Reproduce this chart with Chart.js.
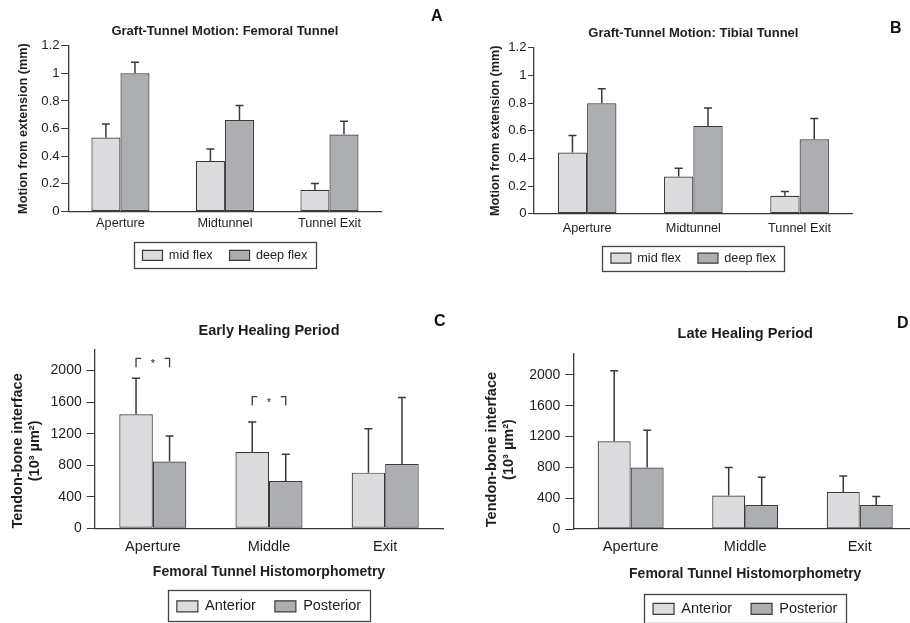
<!DOCTYPE html>
<html>
<head>
<meta charset="utf-8">
<script src="https://cdn.jsdelivr.net/npm/chart.js@4.4.1/dist/chart.umd.min.js"></script>
<style>
  html, body { margin: 0; padding: 0; background: #ffffff; width: 910px; height: 623px; overflow: hidden; }
  body { position: relative; font-family: "Liberation Sans", Arial, Helvetica, sans-serif; }
  canvas { position: absolute; display: block; }
  .letter { position: absolute; font-weight: bold; font-size: 16px; line-height: 1; color: #111; }
</style>
</head>
<body>
<canvas id="cA" width="455" height="280" style="left:0px;top:0px"></canvas>
<canvas id="cB" width="455" height="280" style="left:455px;top:0px"></canvas>
<canvas id="cC" width="455" height="330" style="left:0px;top:300px"></canvas>
<canvas id="cD" width="480" height="330" style="left:455px;top:300px"></canvas>
<div class="letter" style="left:431px;top:8px">A</div>
<div class="letter" style="left:890px;top:20px">B</div>
<div class="letter" style="left:434px;top:313px">C</div>
<div class="letter" style="left:897px;top:315px">D</div>
<script>
// ---------------- DATA ----------------
const motionCategories = ['Aperture', 'Midtunnel', 'Tunnel Exit'];
const motionSeries = ['mid flex', 'deep flex'];
const femoralMidFlex = [0.535, 0.366, 0.157];
const femoralMidFlexSD = [0.099, 0.087, 0.045];
const femoralDeepFlex = [1.0, 0.663, 0.557];
const femoralDeepFlexSD = [0.08, 0.104, 0.096];
const tibialMidFlex = [0.442, 0.269, 0.13];
const tibialMidFlexSD = [0.123, 0.06, 0.031];
const tibialDeepFlex = [0.798, 0.635, 0.538];
const tibialDeepFlexSD = [0.106, 0.13, 0.15];
const motionTicks = [0, 0.2, 0.4, 0.6, 0.8, 1, 1.2];

const healingCategories = ['Aperture', 'Middle', 'Exit'];
const healingSeries = ['Anterior', 'Posterior'];
const earlyAnterior = [1446, 968, 706];
const earlyAnteriorSD = [457, 381, 558];
const earlyPosterior = [846, 600, 816];
const earlyPosteriorSD = [325, 339, 842];
const lateAnterior = [1139, 433, 481];
const lateAnteriorSD = [913, 364, 207];
const latePosterior = [797, 312, 312];
const latePosteriorSD = [484, 359, 108];
const interfaceTicks = [0, 400, 800, 1200, 1600, 2000];
const interfaceAxisMax = 2270;
const earlySigCategories = ['Aperture', 'Middle'];
const earlySigLevels = [2156, 1670];

// ---------------- STYLE ----------------
const FONT = '"Liberation Sans", Arial, Helvetica, sans-serif';
const FILLS = ['#dcdcde', '#adaeb1'];
const EDGE = '#3a3a3a';
const TEXT = '#1e1e1e';

// ---------------- PLUGINS ----------------
const errorBarsPlugin = {
  id: 'errorBars',
  afterDatasetsDraw(chart, args, opts) {
    const ctx = chart.ctx, y = chart.scales.y;
    ctx.save();
    ctx.strokeStyle = opts.color || EDGE;
    ctx.lineWidth = opts.lineWidth || 1.5;
    const cap = opts.cap || 8;
    chart.data.datasets.forEach((ds, di) => {
      if (!ds.errors) return;
      const meta = chart.getDatasetMeta(di);
      meta.data.forEach((bar, i) => {
        const v = ds.data[i], e = ds.errors[i];
        const yb = y.getPixelForValue(v), yt = y.getPixelForValue(v + e);
        ctx.beginPath();
        ctx.moveTo(bar.x, yb);
        ctx.lineTo(bar.x, yt);
        ctx.moveTo(bar.x - cap / 2, yt);
        ctx.lineTo(bar.x + cap / 2, yt);
        ctx.stroke();
      });
    });
    ctx.restore();
  }
};

const legendFramePlugin = {
  id: 'legendFrame',
  afterDraw(chart, args, opts) {
    const lg = chart.legend;
    if (!lg || !lg.legendHitBoxes || !lg.legendHitBoxes.length) return;
    const hb = lg.legendHitBoxes;
    let x0 = Infinity, x1 = -Infinity, y0 = Infinity, y1 = -Infinity;
    hb.forEach(h => {
      x0 = Math.min(x0, h.left); x1 = Math.max(x1, h.left + h.width);
      y0 = Math.min(y0, h.top); y1 = Math.max(y1, h.top + h.height);
    });
    const ctx = chart.ctx;
    ctx.save();
    ctx.strokeStyle = opts.color || '#444';
    ctx.lineWidth = 1.3;
    ctx.strokeRect(Math.round(x0 - opts.mx) + 0.5, Math.round(y0 - opts.mt) + 0.5,
      Math.round(x1 - x0 + 2 * opts.mx), Math.round(y1 - y0 + opts.mt + opts.mb));
    ctx.restore();
  }
};

const sigBracketPlugin = {
  id: 'sigBrackets',
  afterDatasetsDraw(chart, args, opts) {
    if (!opts || !opts.categories) return;
    const ctx = chart.ctx, y = chart.scales.y;
    const m0 = chart.getDatasetMeta(0), m1 = chart.getDatasetMeta(1);
    ctx.save();
    ctx.strokeStyle = EDGE;
    ctx.lineWidth = 1.3;
    ctx.fillStyle = TEXT;
    ctx.font = '11px ' + FONT;
    ctx.textAlign = 'center';
    ctx.textBaseline = 'alphabetic';
    opts.categories.forEach((name, k) => {
      const ci = chart.data.labels.indexOf(name);
      if (ci < 0) return;
      const xa = m0.data[ci].x, xb = m1.data[ci].x;
      const yt = y.getPixelForValue(opts.levels[k]);
      const drop = 9, arm = 5;
      ctx.beginPath();
      ctx.moveTo(xa, yt + drop); ctx.lineTo(xa, yt); ctx.lineTo(xa + arm, yt);
      ctx.moveTo(xb - arm, yt); ctx.lineTo(xb, yt); ctx.lineTo(xb, yt + drop);
      ctx.stroke();
      ctx.fillText('*', (xa + xb) / 2, yt + 9);
    });
    ctx.restore();
  }
};

// ---------------- BUILDER ----------------
function buildPanel(canvasId, spec, L) {
  const datasets = spec.series.map((name, k) => ({
    label: name,
    data: spec.values[k],
    errors: spec.errors[k],
    backgroundColor: FILLS[k],
    borderColor: EDGE,
    borderWidth: 1.2,
    borderSkipped: false,
    categoryPercentage: L.catPct,
    barPercentage: 1.0
  }));
  // pad the rotated title with trailing spaces so its visible part sits lower, as in the figure
  const pad = ' '.repeat(L.yTitleShift || 0);
  const yTitleText = Array.isArray(spec.yTitle) ? spec.yTitle.map(t => t + pad) : spec.yTitle + pad;
  const yScale = {
    min: 0,
    max: spec.yMax,
    afterBuildTicks: s => { s.ticks = spec.yTicks.map(v => ({ value: v })); },
    afterFit: s => { s.width = L.yW; },
    ticks: {
      color: TEXT,
      font: { family: FONT, size: L.yTickFs },
      padding: L.tickPad,
      callback: v => String(v)
    },
    grid: { display: true, drawOnChartArea: false, drawTicks: true, tickLength: L.tickLen, color: EDGE, lineWidth: 1 },
    border: { display: true, color: EDGE, width: 1.3 },
    title: {
      display: true,
      text: yTitleText,
      color: TEXT,
      font: { family: FONT, size: L.yTitleFs, weight: 'bold', lineHeight: 1.2 },
      padding: { top: L.yTitlePad, bottom: 0 }
    }
  };
  const xScale = {
    afterFit: s => { s.height = L.hx; },
    ticks: { color: TEXT, font: { family: FONT, size: L.xTickFs }, padding: L.xTickPad, maxRotation: 0, autoSkip: false },
    grid: { display: false, drawTicks: false },
    border: { display: true, color: EDGE, width: 1.3 },
    title: spec.xTitle ? {
      display: true,
      text: spec.xTitle,
      color: TEXT,
      font: { family: FONT, size: L.xTitleFs, weight: 'bold', lineHeight: 1.2 },
      padding: { top: 0, bottom: 0 }
    } : { display: false }
  };
  return new Chart(document.getElementById(canvasId), {
    type: 'bar',
    data: { labels: spec.categories, datasets },
    options: {
      responsive: false,
      animation: false,
      events: [],
      layout: { padding: { left: 0, right: L.pR, top: L.pT, bottom: L.pB } },
      plugins: {
        title: {
          display: true,
          text: spec.title,
          fullSize: false,
          color: TEXT,
          font: { family: FONT, size: L.titleFs, weight: 'bold', lineHeight: 1.2 },
          padding: { top: 0, bottom: L.titlePadB }
        },
        legend: {
          display: true,
          position: 'bottom',
          fullSize: false,
          labels: {
            color: TEXT,
            font: { family: FONT, size: L.legendFs },
            boxWidth: L.boxW,
            boxHeight: L.boxH,
            padding: L.legendPad
          }
        },
        tooltip: { enabled: false },
        errorBars: { color: EDGE, lineWidth: 1.5, cap: 8 },
        legendFrame: { mx: L.frameX, mt: L.frameT, mb: L.frameB, color: '#444' },
        sigBrackets: spec.sig || {}
      },
      scales: { x: xScale, y: yScale }
    },
    plugins: [errorBarsPlugin, legendFramePlugin, sigBracketPlugin]
  });
}

const layoutA = { yW: 68.2, yTitlePad: 15.5, pR: 73.3, pT: 23.9, titlePadB: 6.2, xTickPad: 4.8, hx: 20.55, pB: 8.25,
  catPct: 0.556, tickLen: 7, tickPad: 1.5, titleFs: 13, yTitleFs: 12.7, yTickFs: 13.2, xTickFs: 12.7, xTitleFs: 12,
  legendFs: 12.7, boxW: 20, boxH: 10, legendPad: 17, frameX: 8.5, frameT: 7, frameB: 6.5 };
const layoutB = { yW: 79, yTitlePad: 32.5, pR: 57.3, pT: 25.5, titlePadB: 6.6, xTickPad: 6.8, hx: 21.05, pB: 5.45,
  catPct: 0.552, tickLen: 6, tickPad: 1.5, titleFs: 13, yTitleFs: 12.7, yTickFs: 13.2, xTickFs: 12.7, xTitleFs: 12,
  legendFs: 12.7, boxW: 20, boxH: 10, legendPad: 17, frameX: 8.5, frameT: 6, frameB: 6 };
const layoutC = { yW: 94.7, yTitlePad: 8.8, pR: 11.7, pT: 22, titlePadB: 9.9, xTickPad: 9.7, hx: 51.8, pB: 6.4,
  catPct: 0.577, tickLen: 8, tickPad: 5, titleFs: 14.5, yTitleFs: 14.5, yTickFs: 14, xTickFs: 14.5, xTitleFs: 14,
  legendFs: 14.5, boxW: 21, boxH: 11, legendPad: 19, frameX: 9, frameT: 9, frameB: 7, yTitleShift: 6 };
const layoutD = { yW: 118.4, yTitlePad: 27.8, pR: 18, pT: 25.6, titlePadB: 11, xTickPad: 9, hx: 53.7, pB: 3.8,
  catPct: 0.576, tickLen: 8, tickPad: 5, titleFs: 14.5, yTitleFs: 14.5, yTickFs: 14, xTickFs: 14.5, xTitleFs: 14,
  legendFs: 14.5, boxW: 21, boxH: 11, legendPad: 19, frameX: 9, frameT: 7.4, frameB: 7, yTitleShift: 4 };

buildPanel('cA', {
  title: 'Graft-Tunnel Motion: Femoral Tunnel',
  categories: motionCategories, series: motionSeries,
  values: [femoralMidFlex, femoralDeepFlex], errors: [femoralMidFlexSD, femoralDeepFlexSD],
  yMax: 1.2, yTicks: motionTicks, yTitle: 'Motion from extension (mm)'
}, layoutA);

buildPanel('cB', {
  title: 'Graft-Tunnel Motion: Tibial Tunnel',
  categories: motionCategories, series: motionSeries,
  values: [tibialMidFlex, tibialDeepFlex], errors: [tibialMidFlexSD, tibialDeepFlexSD],
  yMax: 1.2, yTicks: motionTicks, yTitle: 'Motion from extension (mm)'
}, layoutB);

buildPanel('cC', {
  title: 'Early Healing Period',
  categories: healingCategories, series: healingSeries,
  values: [earlyAnterior, earlyPosterior], errors: [earlyAnteriorSD, earlyPosteriorSD],
  yMax: interfaceAxisMax, yTicks: interfaceTicks,
  yTitle: ['Tendon-bone interface', '(10\u00B3 \u00B5m\u00B2)'],
  xTitle: 'Femoral Tunnel Histomorphometry',
  sig: { categories: earlySigCategories, levels: earlySigLevels }
}, layoutC);

buildPanel('cD', {
  title: 'Late Healing Period',
  categories: healingCategories, series: healingSeries,
  values: [lateAnterior, latePosterior], errors: [lateAnteriorSD, latePosteriorSD],
  yMax: interfaceAxisMax, yTicks: interfaceTicks,
  yTitle: ['Tendon-bone interface', '(10\u00B3 \u00B5m\u00B2)'],
  xTitle: 'Femoral Tunnel Histomorphometry'
}, layoutD);
</script>
</body>
</html>
